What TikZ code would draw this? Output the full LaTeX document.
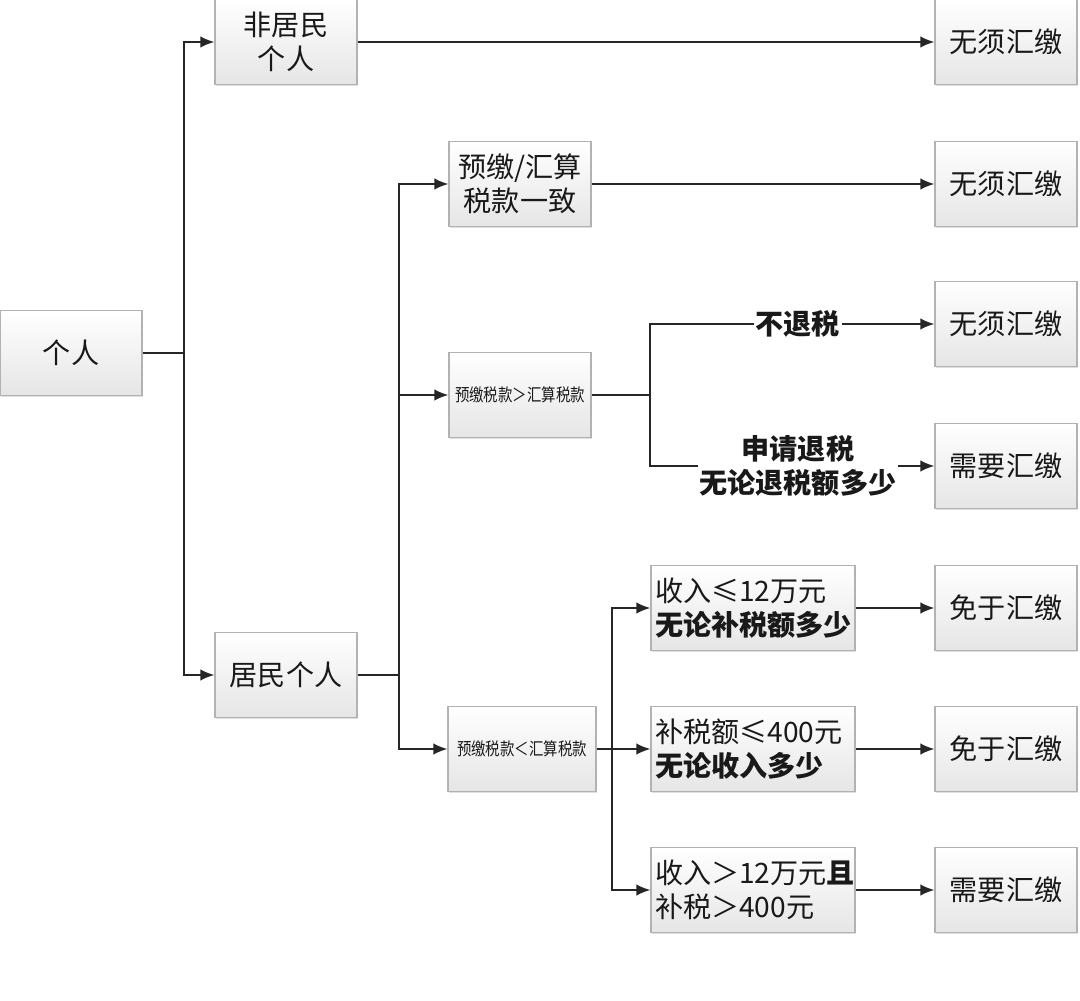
\documentclass[tikz,border=0pt]{standalone}
\usepackage{fontspec}
\setmainfont{Noto Sans CJK SC}
\usepackage{tikz}
\usetikzlibrary{calc}
\usetikzlibrary{arrows.meta}
\usetikzlibrary{shadows}
\tikzset{>=latex}
\tikzset{box/.style = {draw=gray!60, line width=0.6pt, top color=white, bottom color=gray!20,
    minimum width=2.84cm, minimum height=1.7cm, align=center, text=black!90,
    font=\fontsize{16}{19.5}\selectfont,
    drop shadow={opacity=0.25, shadow xshift=0.7pt, shadow yshift=-0.7pt}}}
\tikzset{widebox/.style = {box, minimum width=4.08cm, inner xsep=0.08cm, text width=3.92cm, align=left}}
\tikzset{smallbox/.style = {box, font=\fontsize{10}{12}\selectfont}}
\tikzset{edge/.style = {-{Latex[length=8pt,width=6.5pt]}, line width=1pt, draw=black!85}}
\tikzset{link/.style = {line width=1pt, draw=black!85}}
\tikzset{lbl/.style = {fill=white, inner sep=1pt, align=center, text=black!90,
    font=\bfseries\fontsize{16}{19.5}\selectfont}}
\newcommand{\narrow}[1]{\scalebox{0.82}[1]{#1}}

\begin{document}
\begin{tikzpicture}
            \useasboundingbox (0,0) rectangle (21.6,20);

            % Vertices
            \node[box] (ind) at (1.42,12.94) {个人};
            \node[box] (nonres) at (5.72,19.16) {非居民\\个人};
            \node[box] (res) at (5.72,6.5) {居民个人};

            \node[box] (same) at (10.4,16.32) {预缴/汇算\\税款一致};
            \node[smallbox] (over) at (10.4,12.1) {\narrow{预缴税款＞汇算税款}};
            \node[smallbox, minimum width=2.96cm] (under) at (10.44,5.02) {\narrow{预缴税款＜汇算税款}};

            \node[widebox] (low) at (15.06,7.84) {收入≤12万元\\\textbf{无论补税额多少}};
            \node[widebox] (small) at (15.06,5.02) {补税额≤400元\\\textbf{无论收入多少}};
            \node[widebox] (high) at (15.06,2.2) {收入＞12万元\textbf{且}\\补税＞400元};

            \node[box] (r1) at (20.12,19.16) {无须汇缴};
            \node[box] (r2) at (20.12,16.32) {无须汇缴};
            \node[box] (r3) at (20.12,13.52) {无须汇缴};
            \node[box] (r4) at (20.12,10.68) {需要汇缴};
            \node[box] (r5) at (20.12,7.84) {免于汇缴};
            \node[box] (r6) at (20.12,5.02) {免于汇缴};
            \node[box] (r7) at (20.12,2.2) {需要汇缴};

            % Junctions
            \coordinate (j1) at (3.68,12.94);
            \coordinate (j2) at (7.98,6.5);
            \coordinate (j3) at (13.0,12.1);
            \coordinate (j4) at (12.24,5.02);

            % Edges
            % ind
            \draw[link] (ind) -- (j1);
            \draw[edge] (j1) |- (nonres);
            \draw[edge] (j1) |- (res);

            % nonres
            \draw[edge] (nonres) -- (r1);

            % res
            \draw[link] (res) -- (j2);
            \draw[edge] (j2) |- (same);
            \draw[edge] (j2) |- (over);
            \draw[edge] (j2) |- (under);
            \draw[edge] (same) -- (r2);

            % over
            \draw[link] (over) -- (j3);
            \draw[edge] (j3) |- node[lbl, pos=0.76] {不退税} (r3);
            \draw[edge] (j3) |- node[lbl, pos=0.76] {申请退税\\无论退税额多少} (r4);

            % under
            \draw[link] (under) -- (j4);
            \draw[edge] (j4) |- (low);
            \draw[edge] (j4) -- (small);
            \draw[edge] (j4) |- (high);
            \draw[edge] (low) -- (r5);
            \draw[edge] (small) -- (r6);
            \draw[edge] (high) -- (r7);
        \end{tikzpicture}
\end{document}
